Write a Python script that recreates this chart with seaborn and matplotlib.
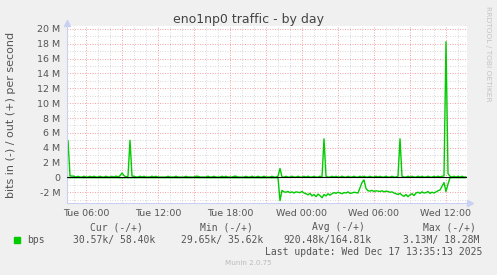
import matplotlib
matplotlib.use("Agg")
import matplotlib.pyplot as plt
import matplotlib.dates as mdates
from matplotlib.ticker import FixedLocator, FuncFormatter
from matplotlib.patches import Rectangle
import numpy as np
import pandas as pd
import seaborn as sns

# ---------------- data ----------------
title = "eno1np0 traffic - by day"
ylabel = "bits in (-) / out (+) per second"
start_time = "2025-12-16 04:20"   # 10-minute samples
xlim_start = "2025-12-16 04:25"
xlim_end = "2025-12-17 13:45"

# out (+) in Mbit/s, one value per 10 minutes
out_mbps = [
    0.05, 5.00, 0.20, 0.18, 0.16, 0.04, 0.15, 0.04, 0.04, 0.16,
    0.04, 0.05, 0.15, 0.04, 0.16, 0.04, 0.04, 0.15, 0.05, 0.04,
    0.16, 0.04, 0.05, 0.15, 0.04, 0.18, 0.05, 0.22, 0.60, 0.25,
    0.06, 0.15, 5.00, 0.18, 0.15, 0.04, 0.04, 0.16, 0.04, 0.15,
    0.04, 0.04, 0.05, 0.16, 0.04, 0.15, 0.04, 0.04, 0.05, 0.04,
    0.04, 0.15, 0.04, 0.05, 0.04, 0.16, 0.04, 0.04, 0.05, 0.04,
    0.15, 0.04, 0.05, 0.04, 0.04, 0.16, 0.15, 0.04, 0.05, 0.04,
    0.04, 0.16, 0.04, 0.05, 0.15, 0.04, 0.04, 0.04, 0.16, 0.04,
    0.15, 0.04, 0.05, 0.04, 0.15, 0.16, 0.04, 0.04, 0.05, 0.04,
    0.15, 0.04, 0.04, 0.16, 0.04, 0.05, 0.15, 0.04, 0.04, 0.16,
    0.04, 0.05, 0.04, 0.15, 0.04, 0.04, 0.16, 1.20, 0.05, 0.04,
    0.15, 0.04, 0.04, 0.16, 0.04, 0.05, 0.15, 0.04, 0.04, 0.15,
    0.04, 0.16, 0.04, 0.05, 0.15, 0.04, 0.04, 0.16, 0.05, 5.20,
    0.15, 0.04, 0.04, 0.16, 0.04, 0.15, 0.05, 0.04, 0.16, 0.04,
    0.04, 0.15, 0.04, 0.05, 0.16, 0.04, 0.04, 0.15, 0.04, 0.16,
    0.04, 0.05, 0.15, 0.04, 0.04, 0.16, 0.04, 0.15, 0.05, 0.04,
    0.16, 0.04, 0.04, 0.15, 0.04, 0.05, 0.16, 5.20, 0.15, 0.04,
    0.04, 0.16, 0.04, 0.15, 0.05, 0.04, 0.16, 0.04, 0.15, 0.04,
    0.05, 0.16, 0.04, 0.04, 0.15, 0.04, 0.16, 0.05, 0.15, 0.20,
    18.28, 0.50, 0.15, 0.04, 0.16, 0.04, 0.15, 0.04, 0.16, 0.04,
    0.06,
]

# in (-) in Mbit/s (magnitude), one value per 10 minutes
in_mbps = [
    0.03, 0.03, 0.04, 0.03, 0.03, 0.03, 0.04, 0.03, 0.03, 0.03,
    0.03, 0.04, 0.03, 0.03, 0.03, 0.03, 0.04, 0.03, 0.03, 0.03,
    0.03, 0.03, 0.04, 0.03, 0.03, 0.03, 0.03, 0.05, 0.04, 0.03,
    0.03, 0.04, 0.03, 0.03, 0.03, 0.03, 0.04, 0.03, 0.03, 0.03,
    0.03, 0.03, 0.04, 0.03, 0.03, 0.03, 0.04, 0.03, 0.03, 0.03,
    0.03, 0.04, 0.03, 0.03, 0.03, 0.03, 0.04, 0.03, 0.03, 0.03,
    0.03, 0.03, 0.04, 0.03, 0.03, 0.03, 0.04, 0.03, 0.03, 0.03,
    0.03, 0.04, 0.03, 0.03, 0.03, 0.03, 0.04, 0.03, 0.03, 0.03,
    0.03, 0.03, 0.04, 0.03, 0.03, 0.03, 0.04, 0.03, 0.03, 0.03,
    0.03, 0.04, 0.03, 0.03, 0.03, 0.03, 0.04, 0.03, 0.03, 0.03,
    0.03, 0.03, 0.04, 0.03, 0.03, 0.03, 0.04, 3.13, 1.75, 1.95,
    2.00, 1.90, 2.05, 1.95, 2.10, 1.95, 2.00, 2.05, 1.90, 2.10,
    2.20, 2.35, 2.15, 2.50, 2.30, 2.60, 2.25, 2.45, 2.75, 2.30,
    2.50, 2.20, 2.40, 2.20, 2.05, 2.15, 2.00, 2.10, 2.20, 2.05,
    2.10, 1.95, 2.15, 2.10, 2.00, 2.05, 2.10, 1.40, 0.70, 0.35,
    1.50, 1.80, 1.85, 1.75, 1.90, 1.80, 1.85, 1.90, 1.80, 1.95,
    1.85, 1.90, 2.00, 1.95, 2.10, 2.20, 2.30, 2.15, 2.40, 2.55,
    2.30, 2.60, 2.35, 2.20, 2.45, 2.10, 2.00, 2.15, 1.95, 2.10,
    2.05, 1.90, 2.15, 2.00, 2.10, 1.95, 1.80, 1.70, 1.20, 0.70,
    1.90, 0.90, 0.05, 0.03, 0.03, 0.04, 0.03, 0.03, 0.03, 0.04,
    0.03,
]

legend_headers = ["Cur (-/+)", "Min (-/+)", "Avg (-/+)", "Max (-/+)"]
legend_values = ["30.57k/ 58.40k", "29.65k/ 35.62k", "920.48k/164.81k", "3.13M/ 18.28M"]
series_name = "bps"
last_update = "Last update: Wed Dec 17 13:35:13 2025"
credit = "Munin 2.0.75"
side_text = "RRDTOOL / TOBI OETIKER"
y_major_ticks = [-2, 0, 2, 4, 6, 8, 10, 12, 14, 16, 18, 20]
y_minor_ticks = [-3, -1, 1, 3, 5, 7, 9, 11, 13, 15, 17, 19]

# ---------------- styling ----------------
W, H = 497, 275
BG = "#F0F0F0"
GREEN = "#00CC00"
TXT = "#555555"
AXIS_C = "#C9D0F2"

sns.set_style("white")
plt.rcParams["font.family"] = ["DejaVu Sans"]

times = pd.date_range(start_time, periods=len(out_mbps), freq="10min")
df = pd.DataFrame({
    "time": times,
    "out": np.array(out_mbps) * 1e6,
    "in": -np.array(in_mbps) * 1e6,
})

fig = plt.figure(figsize=(W / 100, H / 100), dpi=100, facecolor=BG)
ax = fig.add_axes([67 / W, 1 - 203 / H, 400 / W, 177 / H])
ax.set_facecolor("white")

sns.lineplot(data=df, x="time", y="out", ax=ax, color=GREEN, linewidth=1.0,
             estimator=None, sort=False, zorder=2)
sns.lineplot(data=df, x="time", y="in", ax=ax, color=GREEN, linewidth=1.0,
             estimator=None, sort=False, zorder=2)
ax.axhline(0, color="black", linewidth=0.8, zorder=3)

ax.set_xlim(pd.Timestamp(xlim_start), pd.Timestamp(xlim_end))
ax.set_ylim(-3.45e6, 20.4e6)

# grid: major every 3 h / 2 M (red), minor every hour / 1 M (grey)
ax.xaxis.set_major_locator(mdates.HourLocator(byhour=range(0, 24, 3)))
ax.xaxis.set_minor_locator(mdates.HourLocator(byhour=[h for h in range(24) if h % 3]))

def xfmt(v, pos):
    d = mdates.num2date(v)
    if d.hour % 6 == 0 and d.minute == 0:
        return d.strftime("%a %H:%M")
    return ""

ax.xaxis.set_major_formatter(FuncFormatter(xfmt))
ax.yaxis.set_major_locator(FixedLocator([v * 1e6 for v in y_major_ticks]))
ax.yaxis.set_minor_locator(FixedLocator([v * 1e6 for v in y_minor_ticks]))

def yfmt(v, pos):
    m = int(round(v / 1e6))
    return "0" if m == 0 else f"{m} M"

ax.yaxis.set_major_formatter(FuncFormatter(yfmt))

ax.grid(which="minor", color="#DADADA", linestyle=(0, (1, 1.5)), linewidth=0.72)
ax.grid(which="major", color="#F5A8A8", linestyle=(0, (1, 1.5)), linewidth=0.72)
ax.set_axisbelow(True)

ax.tick_params(axis="both", which="both", length=0, labelsize=6.8, colors=TXT)
ax.tick_params(axis="y", pad=5)
ax.tick_params(axis="x", pad=4.5)
ax.set_xlabel("")
ax.set_ylabel("")

for s in ["top", "right"]:
    ax.spines[s].set_visible(False)
for s in ["left", "bottom"]:
    ax.spines[s].set_color(AXIS_C)
    ax.spines[s].set_linewidth(0.8)

# axis arrows
ax.plot([0], [1.015], marker="^", markersize=4.5, color=AXIS_C,
        transform=ax.transAxes, clip_on=False, zorder=5)
ax.plot([1.008], [0], marker=">", markersize=4.5, color=AXIS_C,
        transform=ax.transAxes, clip_on=False, zorder=5)

# texts
fig.text(0.5, 1 - 19 / H, title, ha="center", va="center", fontsize=9, color="#444444")
fig.text(11 / W, 1 - 115 / H, ylabel, ha="center", va="center", rotation=90,
         fontsize=8, color=TXT)
fig.text(488 / W, 1 - 54 / H, side_text, ha="center", va="center", rotation=270,
         fontsize=5.4, color="#C4C4C4")

mono = "DejaVu Sans Mono"
header_x = [90, 200, 312, 423]
value_x = [73, 181, 283, 403]
for hx, h in zip(header_x, legend_headers):
    fig.text(hx / W, 1 - 227 / H, h, ha="left", va="center", fontsize=7,
             family=mono, color=TXT)
fig.patches.append(Rectangle((14 / W, 1 - 243 / H), 6 / W, 6 / H,
                             transform=fig.transFigure, color=GREEN))
fig.text(27 / W, 1 - 240 / H, series_name, ha="left", va="center", fontsize=7,
         family=mono, color=TXT)
for vx, v in zip(value_x, legend_values):
    fig.text(vx / W, 1 - 240 / H, v, ha="left", va="center", fontsize=7,
             family=mono, color=TXT)
fig.text(482 / W, 1 - 252 / H, last_update, ha="right", va="center", fontsize=7,
         family=mono, color=TXT)
fig.text(248 / W, 1 - 263 / H, credit, ha="center", va="center", fontsize=5.1,
         color="#BBBBBB")

fig.savefig("out.png", dpi=100, facecolor=BG)
